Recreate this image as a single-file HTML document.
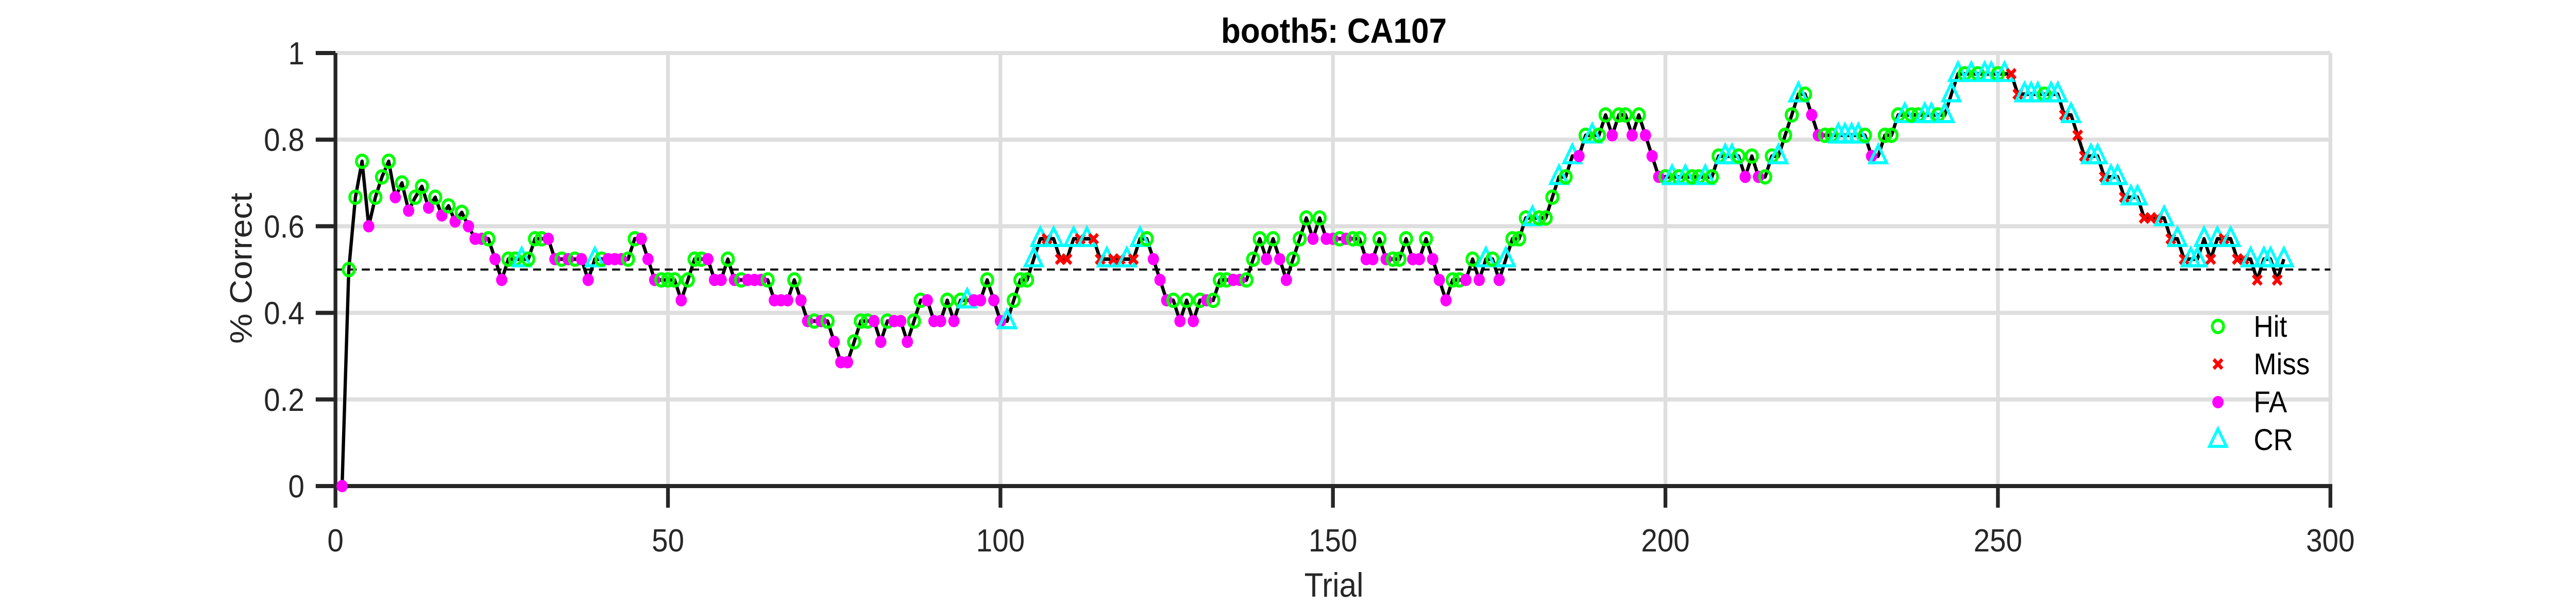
<!DOCTYPE html>
<html>
<head>
<meta charset="utf-8">
<style>
html,body{margin:0;padding:0;background:#fff;width:100%;height:100%;overflow:hidden;}
svg{display:block;width:100vw;height:100vh;}
text{font-family:"Liberation Sans",Arial,sans-serif;}
</style>
</head>
<body>
<svg id="chart" xmlns="http://www.w3.org/2000/svg" viewBox="0 0 5475 1175" preserveAspectRatio="none" overflow="hidden">
  <rect x="0" y="0" width="5475" height="1175" fill="#ffffff"/>
  <g id="grid"></g>
  <g id="axes"></g>
  <g id="series"></g>
  <text x="2835" y="83" font-size="68" font-weight="bold" text-anchor="middle" fill="#000">booth5: CA107</text>
  <text x="2835" y="1159" font-size="66" text-anchor="middle" fill="#262626">Trial</text>
  <text x="535" y="521" font-size="66" text-anchor="middle" fill="#262626" transform="rotate(-90 535 521)">% Correct</text>
  <g id="legend"></g>
</svg>
<script>
// ---- data ----
const xTicks = [0, 50, 100, 150, 200, 250, 300];
const yTicks = [0, 0.2, 0.4, 0.6, 0.8, 1];
const yTickLabels = ["0", "0.2", "0.4", "0.6", "0.8", "1"];
const xTickLabels = ["0", "50", "100", "150", "200", "250", "300"];
const chanceLevel = 0.5;
const accuracy = [
0,.5,.667,.75,.6,.667,.714,.75,.667,.7,
.636,.667,.692,.643,.667,.625,.647,.611,.632,.6,
.571,.571,.571,.524,.476,.524,.524,.524,.524,.571,
.571,.571,.524,.524,.524,.524,.524,.476,.524,.524,
.524,.524,.524,.524,.571,.571,.524,.476,.476,.476,
.476,.429,.476,.524,.524,.524,.476,.476,.524,.476,
.476,.476,.476,.476,.476,.429,.429,.429,.476,.429,
.381,.381,.381,.381,.333,.286,.286,.333,.381,.381,
.381,.333,.381,.381,.381,.333,.381,.429,.429,.381,
.381,.429,.381,.429,.429,.429,.429,.476,.429,.381,
.381,.429,.476,.476,.524,.571,.571,.571,.524,.524,
.571,.571,.571,.571,.524,.524,.524,.524,.524,.524,
.571,.571,.524,.476,.429,.429,.381,.429,.381,.429,
.429,.429,.476,.476,.476,.476,.476,.524,.571,.524,
.571,.524,.476,.524,.571,.619,.571,.619,.571,.571,
.571,.571,.571,.571,.524,.524,.571,.524,.524,.524,
.571,.524,.524,.571,.524,.476,.429,.476,.476,.476,
.524,.476,.524,.524,.476,.524,.571,.571,.619,.619,
.619,.619,.667,.714,.714,.762,.762,.81,.81,.81,
.857,.81,.857,.857,.81,.857,.81,.762,.714,.714,
.714,.714,.714,.714,.714,.714,.714,.762,.762,.762,
.762,.714,.762,.714,.714,.762,.762,.81,.857,.905,
.905,.857,.81,.81,.81,.81,.81,.81,.81,.81,
.762,.762,.81,.81,.857,.857,.857,.857,.857,.857,
.857,.857,.905,.952,.952,.952,.952,.952,.952,.952,
.952,.952,.905,.905,.905,.905,.905,.905,.905,.857,
.857,.81,.762,.762,.762,.714,.714,.714,.667,.667,
.667,.619,.619,.619,.619,.571,.571,.524,.524,.524,
.571,.524,.571,.571,.571,.524,.524,.524,.476,.524,
.524,.476,.524
];
const outcomes = (
"FHHHFHHHFH"+"FHHFHFHFHF"+"FFHFFHHCHH"+"HFFHFHFFCH"+"FFFHHFFFHH"+
"HFHHHFFFHF"+"HFFFHFFFHF"+"FHFHFFFHHH"+"FFHFFFHHFF"+"FHFHCFFHFF"+
"CHHHCCMCMM"+"CMCMMCMMCM"+"CHFFFHFHFH"+"FHHHFFHHHF"+"HFFHHHFHFF"+
"HFHHFFHFHH"+"HFFHFFFHHF"+"HFCHFCHHHC"+"HHHCHCFHCH"+"HFHHFHFFFH"+
"CHCHHCHHCC"+"HFHFHHCHHC"+"HFFHHCCCCH"+"FCHHHCHHCC"+"HCCCHCHCCH"+
"CMMCCCHCCM"+"CMMCCMCCMC"+"CMMMCMCMCC"+"CMCMCMMCMC"+"CMC").split("");
const outcomeLabels = ["Hit", "Miss", "FA", "CR"];

// ---- geometry ----
const X0 = 713, X1 = 4953, Y0 = 944, Y1 = 103;
const xMin = 0, xMax = 300, yMin = 0, yMax = 1;
function xScale(v){ return X0 + (v - xMin) / (xMax - xMin) * (X1 - X0); }
function yScale(v){ return Y0 - (v - yMin) / (yMax - yMin) * (Y0 - Y1); }
const NS = "http://www.w3.org/2000/svg";
function mk(tag, attrs, parent){
  const e = document.createElementNS(NS, tag);
  for (const k in attrs) e.setAttribute(k, attrs[k]);
  parent.appendChild(e);
  return e;
}
const grid = document.getElementById("grid");
const axes = document.getElementById("axes");
const series = document.getElementById("series");
const legend = document.getElementById("legend");

xTicks.forEach((t) => {
  if (t === 0) return;
  const l = mk("line", {x1: xScale(t), x2: xScale(t), y1: Y1, y2: Y0, stroke: "#dedede", "stroke-width": 8}, grid);
  
  
});
yTicks.forEach((t) => {
  if (t === 0) return;
  const l = mk("line", {x1: X0, x2: X1, y1: yScale(t), y2: yScale(t), stroke: "#dedede", "stroke-width": 8}, grid);
  
  
});

const xa = mk("line", {x1: X0 - 4, x2: X1 + 4, y1: Y0, y2: Y0, stroke: "#262626", "stroke-width": 8}, axes);


const ya = mk("line", {x1: X0, x2: X0, y1: Y1, y2: Y0 + 4, stroke: "#262626", "stroke-width": 8}, axes);


xTicks.forEach((t, i) => {
  const tk = mk("line", {x1: xScale(t), x2: xScale(t), y1: Y0, y2: Y0 + 42, stroke: "#262626", "stroke-width": 8}, axes);
  
  
  const tx = mk("text", {x: xScale(t), y: 1071, "font-size": 62, "text-anchor": "middle", fill: "#262626"}, axes);
  tx.textContent = xTickLabels[i];
  
  
});
yTicks.forEach((t, i) => {
  const tk = mk("line", {x1: X0 - 42, x2: X0, y1: yScale(t), y2: yScale(t), stroke: "#262626", "stroke-width": 8}, axes);
  
  
  const tx = mk("text", {x: 647, y: yScale(t) + 22, "font-size": 62, "text-anchor": "end", fill: "#262626"}, axes);
  tx.textContent = yTickLabels[i];
  
  
});

const ch = mk("line", {x1: X0, x2: X1, y1: yScale(chanceLevel), y2: yScale(chanceLevel), stroke: "#000", "stroke-width": 4, "stroke-dasharray": "17 11"}, series);



const pts = accuracy.map((v, i) => xScale(i + 1).toFixed(1) + "," + yScale(v).toFixed(1)).join(" ");
const pl = mk("polyline", {points: pts, fill: "none", stroke: "#000", "stroke-width": 7, "stroke-linejoin": "round"}, series);



function drawMarker(type, cx, cy, parent){
  let el;
  if (type === "H") {
    el = mk("circle", {cx: cx, cy: cy, r: 12, fill: "none", stroke: "#00ff00", "stroke-width": 6}, parent);
  } else if (type === "F") {
    el = mk("circle", {cx: cx, cy: cy, r: 12, fill: "#ff00ff"}, parent);
  } else if (type === "C") {
    const h = 34, w = 36;
    el = mk("polygon", {points: `${cx},${cy - h*0.62} ${cx - w/2},${cy + h*0.38} ${cx + w/2},${cy + h*0.38}`, fill: "none", stroke: "#00ffff", "stroke-width": 6}, parent);
  } else {
    const s = 9;
    el = mk("path", {d: `M${cx - s},${cy - s}L${cx + s},${cy + s}M${cx - s},${cy + s}L${cx + s},${cy - s}`, stroke: "#ff0000", "stroke-width": 7, fill: "none"}, parent);
  }
  return el;
}
const typeNames = {H: "hit-marker", M: "miss-marker", F: "fa-marker", C: "cr-marker"};
outcomes.forEach((t, i) => {
  const m = drawMarker(t, xScale(i + 1), yScale(accuracy[i]), series);
  
  
});

const legTypes = ["H", "M", "F", "C"];
const legY = [634, 707, 781, 854];
legTypes.forEach((t, i) => {
  const g = mk("g", {}, legend);
  
  
  drawMarker(t, 4714, legY[i], g);
  const tx = mk("text", {x: 4790, y: legY[i] + 20, "font-size": 58, fill: "#000"}, g);
  tx.textContent = outcomeLabels[i];
  
  
});
</script>
</body>
</html>
